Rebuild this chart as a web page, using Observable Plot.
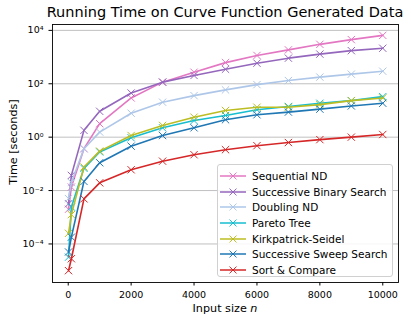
<!DOCTYPE html>
<html><head><meta charset="utf-8">
<script src="https://cdn.jsdelivr.net/npm/d3@7"></script>
<script src="https://cdn.jsdelivr.net/npm/@observablehq/plot@0.6"></script>
<style>
body{margin:0;background:#fff;font-family:"DejaVu Sans",sans-serif;}
#wrap{position:relative;width:411px;height:322px;overflow:hidden;}
#title{height:22px;line-height:25px;font-size:14.5px;text-align:center;width:450px;white-space:nowrap;}
#legend{position:absolute;left:217px;top:164px;width:176px;height:113px;border:1px solid #d0d0d0;border-radius:3px;background:rgba(255,255,255,0.85);box-sizing:border-box;padding-top:3px;overflow:hidden;}
.li{height:15.7px;display:flex;align-items:center;font-size:10.5px;white-space:nowrap;}
.li svg{margin-left:2px;margin-right:6px;flex:none;}
</style></head>
<body><div id="wrap"><div id="title">Running Time on Curve Function Generated Data</div><div id="chart"></div><div id="legend"></div></div>
<script>
const sizes = [10, 100, 500, 1000, 2000, 3000, 4000, 5000, 6000, 7000, 8000, 9000, 10000];
const seriesNames = ["Sequential ND", "Successive Binary Search", "Doubling ND", "Pareto Tree", "Kirkpatrick-Seidel", "Successive Sweep Search", "Sort & Compare"];
const seriesColors = ["#e377c2", "#9467bd", "#aec7e8", "#17becf", "#bcbd22", "#1f77b4", "#d62728"];
const sequentialND = [2.0e-3, 1.35e-2, 0.37, 3.2, 29.5, 115, 270, 620, 1150, 1860, 3000, 4500, 6500];
const successiveBinary = [3.2e-3, 0.037, 1.8, 9.3, 45, 115, 205, 350, 590, 910, 1290, 1740, 2140];
const doublingND = [5.0e-3, 0.020, 0.37, 1.55, 7.9, 20.4, 36, 59, 93, 132, 178, 229, 295];
const paretoTree = [3.2e-5, 2.4e-3, 0.068, 0.28, 0.95, 2.24, 4.2, 6.5, 10.7, 14.1, 18.6, 23.4, 33];
const kirkpatrick = [2.5e-4, 1.26e-3, 0.076, 0.30, 1.15, 2.75, 5.6, 10, 13.2, 13.2, 16.6, 23.4, 29.5];
const sweepSearch = [5.0e-5, 1.8e-4, 0.022, 0.11, 0.46, 1.15, 2.24, 4.5, 6.9, 8.7, 11.2, 14.8, 18.6];
const sortCompare = [1.0e-5, 2.8e-5, 4.9e-3, 0.0195, 0.060, 0.126, 0.22, 0.34, 0.48, 0.63, 0.81, 1.0, 1.26];
const seriesValues = [sequentialND, successiveBinary, doublingND, paretoTree, kirkpatrick, sweepSearch, sortCompare];
const xTicks = [0, 2000, 4000, 6000, 8000, 10000];
const yTicks = [1e-4, 1e-2, 1, 1e2, 1e4];
const yTickLabels = ["10⁻⁴", "10⁻²", "10⁰", "10²", "10⁴"];

const data = [];
seriesNames.forEach((name, i) => seriesValues[i].forEach((v, j) => data.push({series: name, n: sizes[j], t: v})));

const marks = [
  Plot.gridY(yTicks, {stroke: "#b0b0b0", strokeOpacity: 1, strokeWidth: 0.8}),
];
seriesNames.forEach((name, i) => {
  const d = data.filter(r => r.series === name);
  marks.push(Plot.line(d, {x: "n", y: "t", stroke: seriesColors[i], strokeWidth: 1.6}));
  marks.push(Plot.dot(d, {x: "n", y: "t", symbol: "times", r: 3.4, stroke: seriesColors[i], strokeWidth: 1}));
});
marks.push(Plot.frame({stroke: "#000", strokeWidth: 0.9}));
marks.push(Plot.axisX(xTicks, {tickSize: 3.5, tickFormat: d => String(d), label: null, fontSize: 9.5}));
marks.push(Plot.axisY(yTicks, {tickSize: 3.5, tickFormat: (d, i) => yTickLabels[yTicks.indexOf(d)], label: null, fontSize: 9.5}));

const chart = Plot.plot({
  width: 411, height: 300,
  marginTop: 2, marginLeft: 52, marginRight: 13, marginBottom: 40,
  style: {fontFamily: "DejaVu Sans", fontSize: "9.5px", color: "#000", background: "#fff"},
  x: {domain: [-500, 10500]},
  y: {type: "log", domain: [3.6e-6, 1.66e4]},
  marks
});
document.getElementById("chart").appendChild(chart);

const svg = d3.select(chart);
const xl = svg.append("text").attr("x", 225).attr("y", 289.5).attr("text-anchor", "middle")
  .attr("font-size", 11.2).attr("fill", "#000");
xl.append("tspan").text("Input size ");
xl.append("tspan").attr("font-style", "italic").text("n");
svg.append("text").attr("transform", "translate(17,120) rotate(-90)").attr("text-anchor", "middle")
  .attr("font-size", 11.2).attr("fill", "#000").text("Time [seconds]");

const lg = document.getElementById("legend");
seriesNames.forEach((name, i) => {
  const row = document.createElement("div");
  row.className = "li";
  row.innerHTML = `<svg width="26" height="10"><line x1="0" y1="5" x2="26" y2="5" stroke="${seriesColors[i]}" stroke-width="1.6"/><path d="M9.5,1.6L16.5,8.4M16.5,1.6L9.5,8.4" stroke="${seriesColors[i]}" stroke-width="1"/></svg><span></span>`;
  row.querySelector("span").textContent = name;
  lg.appendChild(row);
});
</script></body></html>
